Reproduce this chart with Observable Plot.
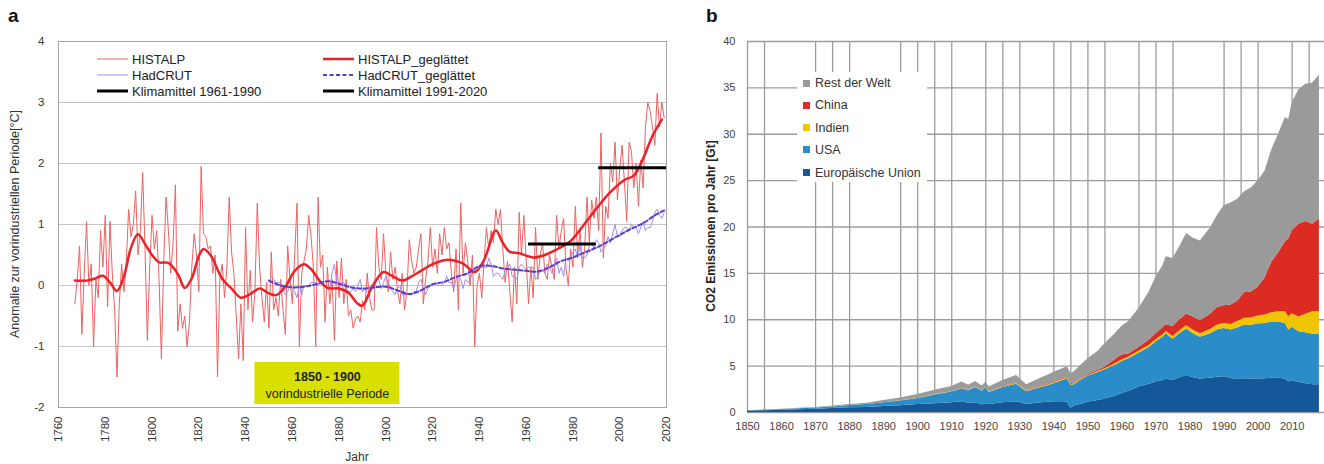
<!DOCTYPE html>
<html><head><meta charset="utf-8">
<script src="https://cdn.jsdelivr.net/npm/d3@7"></script>
<script src="https://cdn.jsdelivr.net/npm/@observablehq/plot@0.6"></script>
<style>
body{margin:0;background:#fff;font-family:"Liberation Sans",Arial,sans-serif;}
#wrap{position:relative;width:1324px;height:464px;overflow:hidden;background:#fff;}
.abs{position:absolute;white-space:nowrap;}
.leg{position:absolute;display:flex;align-items:center;height:16px;white-space:nowrap;font-size:13px;color:#222;}
.bleg{position:absolute;display:flex;align-items:center;height:16px;white-space:nowrap;font-size:12.5px;color:#333;}
.sq{display:inline-block;width:7px;height:7px;margin-right:5px;}
</style></head><body><div id="wrap"></div>
<script>
// ---------- Panel a data ----------
const aXTicks = [1760,1780,1800,1820,1840,1860,1880,1900,1920,1940,1960,1980,2000,2020];
const aYTicks = [-2,-1,0,1,2,3,4];
const histalpStart = 1767;
const histalpValues = [
 -0.3, 0.1, 0.65,
 -0.8, 0.2, 1.05, 0.0, 0.35, -1.0, 0.1, -0.2, 0.9, 0.3,
 1.15, -0.35, 1.05, 0.2, -0.4, -1.5, -0.3, 0.35, -0.1, 0.4,
 1.25, 0.8, 1.0, 1.55, 0.5, 0.9, 1.85, 0.6, -0.9, 0.3,
 1.15, 0.6, 0.9, 0.1, -1.2, 0.4, 1.45, 0.9, 0.2, 0.7,
 1.65, -0.75, -0.3, -0.7, -0.5, -1.0, -0.6, 0.3, 0.85, 0.5,
 -0.1, 1.95, 0.85, 0.8, 0.6, 0.65, 0.2, 0.5, -1.5, 0.1,
 0.35, -0.2, 0.3, 1.45, 0.55, 0.2, -0.5, -1.2, -0.3, -1.23,
 0.95, -0.4, 0.25, -0.6, -0.1, 1.35, 0.3, -0.2, -0.6, 0.05,
 -0.7, 0.55, -0.4, -0.2, -0.5, 0.1, -0.4, -0.8, 0.65, 0.1,
 -0.3, 0.5, 1.35, -1.0, 0.2, 0.4, 0.6, 1.15, 0.8, 0.3,
 -1.0, 1.45, 0.3, 0.5, -0.6, 0.3, -0.3, 0.1, -0.9, 0.4,
 -0.2, 0.45, -0.3, 0.1, -0.5, -0.4, -0.7, -0.55, -0.5, -0.6,
 -0.25, -0.4, 0.2, -0.2, -0.4, -0.4, 0.95, 0.3, 0.1, 0.85,
 0.2, -0.1, 0.55, 0.1, 0.3, -0.1, -0.3, 0.2, -0.4, -0.1,
 0.75, 0.4, 0.2, 0.3, 0.6, 0.85, -0.3, 0.1, 0.4, 0.95,
 0.3, 0.6, 0.2, 0.85, 0.5, 0.95, 0.6, 0.7, 0.2, -0.1,
 0.6, -0.4, 1.35, 0.2, 0.7, 0.4, 0.0, 0.5, -1.0, 0.0,
 0.2, -0.2, 0.4, 0.95, 0.6, 0.9, 0.7, 1.25, 1.0, 1.25,
 0.6, 0.05, 0.4, -0.1, -0.6, 0.3, -0.3, 1.2, 0.5, 1.15,
 0.4, -0.3, 0.3, -0.2, 0.95, 0.1, 0.5, 0.7, 0.2, 0.1,
 0.5, 0.3, 0.1, 1.15, 0.6, 0.9, 1.1, 0.3, 0.0, 0.6,
 0.3, 1.3, 0.5, 0.9, 0.3, 0.6, 1.45, 0.7, 1.4, 1.1,
 1.45, 0.9, 2.5, 0.45, 1.3, 1.1, 2.0, 1.7, 2.35, 1.4,
 1.9, 2.3, 1.7, 1.05, 2.35, 2.2, 1.6, 2.0, 1.3, 2.05,
 1.6, 2.6, 3.0, 2.85, 2.6, 2.3, 3.15, 2.6, 3.0, 2.75
];
const hadcrutStart = 1850;
const hadcrutValues = [
 0.05, 0.15, 0.1, 0.05, 0.05, 0.05, -0.05, -0.15, -0.1, 0.0,
 -0.05, -0.1, -0.2, 0.0, -0.15, 0.0, 0.0, 0.0, 0.05, 0.05,
 0.05, 0.0, 0.05, 0.05, 0.0, -0.05, -0.05, 0.2, 0.35, 0.05,
 0.0, 0.05, 0.05, -0.05, -0.1, -0.1, -0.05, -0.1, 0.0, 0.1,
 -0.1, -0.05, -0.1, -0.1, -0.05, -0.05, 0.1, 0.1, -0.05, 0.05,
 0.15, 0.05, -0.05, -0.1, -0.15, -0.05, 0.0, -0.15, -0.15, -0.15,
 -0.15, -0.15, -0.1, -0.1, 0.05, 0.1, -0.05, -0.15, -0.05, 0.0,
 0.0, 0.05, 0.0, 0.0, 0.0, 0.05, 0.15, 0.05, 0.05, -0.05,
 0.1, 0.15, 0.1, -0.05, 0.1, 0.05, 0.1, 0.2, 0.25, 0.25,
 0.3, 0.3, 0.3, 0.3, 0.45, 0.35, 0.15, 0.2, 0.2, 0.15,
 0.1, 0.25, 0.3, 0.35, 0.15, 0.15, 0.1, 0.3, 0.35, 0.3,
 0.25, 0.3, 0.3, 0.3, 0.1, 0.15, 0.25, 0.25, 0.2, 0.35,
 0.3, 0.2, 0.3, 0.45, 0.2, 0.3, 0.15, 0.45, 0.4, 0.45,
 0.55, 0.6, 0.45, 0.65, 0.45, 0.45, 0.5, 0.65, 0.7, 0.6,
 0.75, 0.7, 0.55, 0.6, 0.65, 0.8, 0.7, 0.85, 1.0, 0.8,
 0.8, 0.9, 0.95, 0.95, 0.9, 1.0, 0.95, 0.95, 0.85, 0.95,
 1.05, 0.9, 0.95, 0.95, 1.05, 1.2, 1.25, 1.15, 1.1, 1.2
];
const histalpSmoothYears = [1767,1772,1776,1779,1782,1785,1788,1791,1794,1797,1800,1803,1807,1811,1814,1817,1820,1822,1825,1830,1834,1838,1842,1846,1850,1853,1857,1861,1865,1868,1872,1875,1880,1884,1888,1890,1894,1899,1903,1907,1911,1915,1920,1926,1933,1938,1942,1947,1950,1953,1957,1963,1968,1972,1979,1984,1990,1996,2002,2006,2010,2014,2018];
const histalpSmoothValues = [0.08,0.08,0.12,0.16,0.05,-0.09,0.15,0.62,0.84,0.68,0.5,0.38,0.37,0.19,-0.04,0.12,0.48,0.6,0.5,0.11,-0.05,-0.2,-0.14,-0.05,-0.13,-0.16,-0.02,0.24,0.35,0.27,0.06,-0.04,-0.05,-0.12,-0.3,-0.33,-0.03,0.22,0.15,0.08,0.15,0.24,0.35,0.42,0.36,0.22,0.42,0.9,0.7,0.55,0.53,0.46,0.5,0.57,0.73,0.96,1.26,1.53,1.73,1.8,2.08,2.45,2.72];
const hadcrutSmoothYears = [1850,1855,1860,1865,1870,1875,1880,1885,1890,1895,1900,1905,1910,1915,1920,1925,1930,1935,1940,1945,1950,1955,1960,1965,1970,1975,1980,1985,1990,1995,2000,2005,2010,2015,2019];
const hadcrutSmoothValues = [0.08,0.0,-0.03,-0.02,0.02,0.07,0.03,-0.03,-0.05,-0.03,-0.02,-0.08,-0.14,-0.08,0.02,0.06,0.14,0.2,0.32,0.32,0.28,0.26,0.24,0.23,0.3,0.4,0.46,0.54,0.62,0.72,0.83,0.93,1.02,1.15,1.23];
const klimaLabels = ["Klimamittel 1961-1990","Klimamittel 1991-2020"];
const klimaFrom = [1961, 1991];
const klimaTo = [1990, 2020];
const klimaValues = [0.68, 1.93];
const boxFrom = 1844, boxTo = 1906, boxTop = -1.26, boxBottom = -1.95;
const boxLines = ["1850 - 1900", "vorindustrielle Periode"];
const boxLineY = [-1.5, -1.78];

// ---------- Panel b data ----------
const bXTicks = [1850,1860,1870,1880,1890,1900,1910,1920,1930,1940,1950,1960,1970,1980,1990,2000,2010];
const bYTicks = [0,5,10,15,20,25,30,35,40];
const bGridYears = [1850,1855,1870,1875,1880,1895,1900,1905,1910,1920,1925,1930,1940,1945,1950,1955,1965,1970,1975,1990,1995,2000,2010,2015];
const seriesNames = ["Europäische Union","USA","Indien","China","Rest der Welt"];
const seriesColors = ["#14589a","#2a8cc8","#f0c400","#dc2b22","#9a9a9a"];
const emYears = [1850,1855,1860,1865,1870,1875,1880,1885,1890,1895,1900,1905,1910,1913,1915,1917,1919,1920,1921,1925,1929,1932,1935,1938,1940,1943,1944,1945,1946,1948,1950,1953,1955,1958,1960,1962,1965,1968,1970,1972,1973,1975,1977,1979,1981,1983,1986,1988,1990,1992,1994,1996,1998,2000,2002,2004,2006,2008,2009,2010,2012,2014,2016,2018];
const emEU = [0.15,0.2,0.25,0.3,0.35,0.42,0.5,0.55,0.65,0.72,0.85,0.95,1.05,1.15,1.0,1.05,0.8,0.95,0.85,1.05,1.15,0.85,1.0,1.1,1.15,1.15,1.1,0.4,0.7,0.9,1.1,1.3,1.45,1.75,2.05,2.3,2.75,3.05,3.3,3.45,3.6,3.45,3.75,4.0,3.75,3.6,3.7,3.8,3.85,3.7,3.55,3.65,3.6,3.6,3.65,3.7,3.7,3.6,3.3,3.4,3.25,3.1,3.0,3.0];
const emUSA = [0.05,0.05,0.07,0.1,0.13,0.18,0.25,0.3,0.4,0.53,0.65,0.95,1.15,1.4,1.35,1.65,1.5,1.75,1.3,1.65,1.9,1.4,1.6,1.75,1.95,2.35,2.5,2.5,2.3,2.6,2.8,3.0,3.15,3.35,3.45,3.5,3.65,3.95,4.3,4.65,4.9,4.45,4.75,5.0,4.75,4.5,4.8,5.1,5.2,5.2,5.55,5.75,5.8,5.95,5.95,6.05,6.05,6.0,5.6,5.8,5.45,5.5,5.45,5.4];
const emIndien = [0.0,0.0,0.01,0.01,0.01,0.01,0.01,0.01,0.01,0.02,0.03,0.03,0.04,0.05,0.05,0.05,0.05,0.05,0.05,0.06,0.07,0.07,0.08,0.1,0.1,0.1,0.1,0.1,0.1,0.1,0.1,0.12,0.13,0.15,0.17,0.18,0.2,0.22,0.24,0.26,0.27,0.3,0.32,0.35,0.37,0.4,0.45,0.5,0.55,0.6,0.7,0.75,0.8,0.85,0.9,1.0,1.1,1.3,1.4,1.45,1.6,2.0,2.4,2.45];
const emChina = [0.0,0.0,0.0,0.0,0.0,0.0,0.0,0.0,0.0,0.0,0.0,0.01,0.01,0.02,0.02,0.02,0.02,0.02,0.02,0.04,0.05,0.05,0.07,0.08,0.08,0.08,0.08,0.07,0.07,0.08,0.1,0.13,0.17,0.45,0.53,0.32,0.4,0.58,0.66,0.74,0.73,1.05,1.18,1.25,1.43,1.4,1.65,1.9,1.9,2.1,2.2,2.75,2.8,3.1,4.0,5.45,6.35,7.5,8.4,8.95,10.0,10.0,9.45,10.05];
const emRest = [0.0,0.02,0.03,0.04,0.06,0.09,0.09,0.14,0.24,0.28,0.42,0.46,0.55,0.68,0.53,0.58,0.48,0.53,0.53,0.65,0.83,0.63,0.75,0.97,1.02,1.12,1.12,1.13,1.23,1.42,1.7,2.05,2.5,2.8,3.1,3.5,4.2,5.2,6.1,6.7,7.3,7.35,7.9,8.7,8.5,8.6,9.3,9.9,10.8,11.0,11.0,10.9,11.2,11.5,11.5,12.1,12.8,13.4,12.9,13.8,14.5,14.8,15.2,15.5];

// ---------- build tables ----------
const histalpRaw = histalpValues.map((v, i) => ({year: histalpStart + i, value: v}));
const hadcrutRaw = hadcrutValues.map((v, i) => ({year: hadcrutStart + i, value: v}));
const histalpSmooth = histalpSmoothYears.map((y, i) => ({year: y, value: histalpSmoothValues[i]}));
const hadcrutSmooth = hadcrutSmoothYears.map((y, i) => ({year: y, value: hadcrutSmoothValues[i]}));
const klima = klimaLabels.map((l, i) => ({label: l, x1: klimaFrom[i], x2: klimaTo[i], y: klimaValues[i]}));
const box = [{x1: boxFrom, x2: boxTo, y1: boxTop, y2: boxBottom}];
const boxText = boxLines.map((t, i) => ({text: t, x: (boxFrom + boxTo) / 2, y: boxLineY[i], bold: i === 0}));
const seriesArrays = [emEU, emUSA, emIndien, emChina, emRest];
const emissions = [];
seriesNames.forEach((s, k) => emYears.forEach((y, i) => emissions.push({year: y, series: s, value: seriesArrays[k][i]})));

const font = '"Liberation Sans", Arial, sans-serif';
const wrap = document.getElementById("wrap");

const pa = Plot.plot({
  width: 690, height: 464,
  marginLeft: 58, marginRight: 24, marginTop: 41, marginBottom: 57,
  style: {fontFamily: font, fontSize: "11.5px", color: "#333", background: "transparent"},
  x: {domain: [1760, 2020], ticks: aXTicks, tickFormat: d => String(d), tickRotate: -90, tickSize: 0, tickPadding: 9, label: null},
  y: {domain: [-2, 4], ticks: aYTicks, tickFormat: d => String(d), tickSize: 0, tickPadding: 14, label: null},
  marks: [
    Plot.gridY(aYTicks, {stroke: "#c4c4c4", strokeOpacity: 1}),
    Plot.frame({stroke: "#a6a6a6"}),
    Plot.rect(box, {x1: "x1", x2: "x2", y1: "y1", y2: "y2", fill: "#d9e000"}),
    Plot.text(boxText.filter(d => d.bold), {x: "x", y: "y", text: "text", fontWeight: "bold", fontSize: 12.5, fill: "#222"}),
    Plot.text(boxText.filter(d => !d.bold), {x: "x", y: "y", text: "text", fontSize: 12.5, fill: "#222"}),
    Plot.line(histalpRaw, {x: "year", y: "value", stroke: "#ee6262", strokeWidth: 1}),
    Plot.line(hadcrutRaw, {x: "year", y: "value", stroke: "#a08af0", strokeWidth: 1}),
    Plot.line(histalpSmooth, {x: "year", y: "value", stroke: "#e8232a", strokeWidth: 2.5, curve: "catmull-rom"}),
    Plot.line(hadcrutSmooth, {x: "year", y: "value", stroke: "#5a3cc8", strokeWidth: 2, strokeDasharray: "4,2.5", curve: "catmull-rom"}),
    Plot.ruleY(klima, {x1: "x1", x2: "x2", y: "y", stroke: "#000", strokeWidth: 3})
  ]
});
pa.style.position = "absolute"; pa.style.left = "0px"; pa.style.top = "0px";
wrap.appendChild(pa);

const pb = Plot.plot({
  width: 634, height: 464,
  marginLeft: 57, marginRight: 0, marginTop: 41, marginBottom: 52,
  style: {fontFamily: font, fontSize: "11px", color: "#444", background: "transparent"},
  x: {domain: [1850, 2019.5], ticks: bXTicks, tickFormat: d => String(d), tickSize: 0, tickPadding: 10, label: null},
  y: {domain: [0, 40], ticks: bYTicks, tickFormat: d => String(d), tickSize: 0, tickPadding: 12, label: null},
  color: {domain: seriesNames, range: seriesColors},
  marks: [
    Plot.ruleY(bYTicks, {stroke: "#9c9c9c", strokeWidth: 1.3}),
    Plot.ruleX(bGridYears, {stroke: "#9c9c9c", strokeWidth: 1.3}),
    Plot.areaY(emissions, Plot.stackY({x: "year", y: "value", fill: "series", z: "series", order: seriesNames}))
  ]
});
pb.style.position = "absolute"; pb.style.left = "690px"; pb.style.top = "0px";
wrap.appendChild(pb);

function add(html, css, cls) {
  const d = document.createElement("div");
  d.className = cls || "abs";
  d.innerHTML = html;
  Object.assign(d.style, css);
  wrap.appendChild(d);
  return d;
}
// panel labels
add("a", {left: "8px", top: "5px", fontSize: "19px", fontWeight: "bold", color: "#111"});
add("b", {left: "706px", top: "5px", fontSize: "19px", fontWeight: "bold", color: "#111"});
// panel a axis titles
add("Anomalie zur vorindustriellen Periode[°C]", {left: "15px", top: "224px", fontSize: "12.5px", color: "#333", transform: "translate(-50%,-50%) rotate(-90deg)"});
add("Jahr", {left: "357px", top: "457px", fontSize: "12px", color: "#333", transform: "translate(-50%,-50%)"});
// panel a legend
function lineSample(stroke, w, dash) {
  return `<svg width="32" height="6" style="margin-right:3px"><line x1="0" x2="31" y1="3" y2="3" stroke="${stroke}" stroke-width="${w}" ${dash ? `stroke-dasharray="${dash}"` : ""}/></svg>`;
}
const legA = [
  {x: 97, y: 59, s: lineSample("#ee6262", 1), t: "HISTALP"},
  {x: 97, y: 75, s: lineSample("#a08af0", 1), t: "HadCRUT"},
  {x: 97, y: 91, s: lineSample("#000", 3), t: klimaLabels[0]},
  {x: 323, y: 59, s: lineSample("#e8232a", 2.5), t: "HISTALP_geglättet"},
  {x: 323, y: 75, s: lineSample("#5a3cc8", 2, "4,2.5"), t: "HadCRUT_geglättet"},
  {x: 323, y: 91, s: lineSample("#000", 3), t: klimaLabels[1]}
];
legA.forEach(d => add(d.s + `<span>${d.t}</span>`, {left: d.x + "px", top: (d.y - 8) + "px"}, "leg"));
// panel b axis title
add("CO2 Emissionen pro Jahr [Gt]", {left: "711px", top: "226px", fontSize: "12px", fontWeight: "bold", color: "#222", transform: "translate(-50%,-50%) rotate(-90deg)"});
// panel b legend
add("", {left: "797px", top: "72px", width: "130px", height: "110px", background: "#fff"});
const legRows = [83, 105, 127.5, 149.5, 172.5];
[4, 3, 2, 1, 0].forEach((k, r) => {
  add(`<span class="sq" style="background:${seriesColors[k]}"></span><span>${seriesNames[k]}</span>`, {left: "803px", top: (legRows[r] - 8) + "px"}, "bleg");
});
</script></body></html>
